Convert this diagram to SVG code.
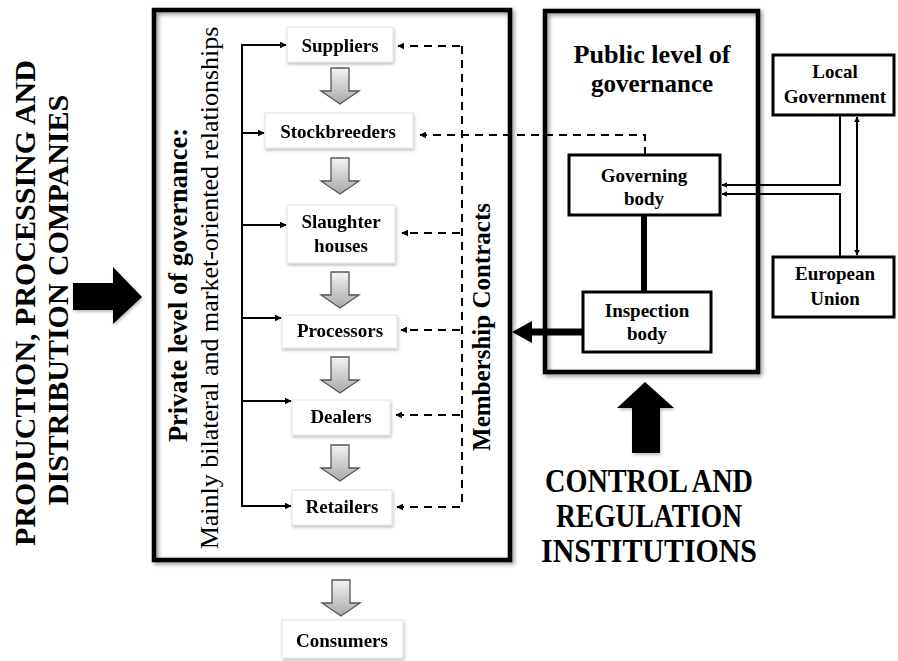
<svg xmlns="http://www.w3.org/2000/svg" xmlns:xlink="http://www.w3.org/1999/xlink" width="898" height="661" viewBox="0 0 898 661">
<style>
text{font-family:"Liberation Serif","Times New Roman",serif;fill:#000;}
.b{font-weight:bold;}
.node{font-weight:bold;font-size:19px;text-anchor:middle;}
.gbox{fill:#fff;stroke:#e2e2e2;stroke-width:1;}
.bbox{fill:#fff;stroke:#000;stroke-width:3;}
.frame{fill:none;stroke:#000;stroke-width:4.5;}
.sol{fill:none;stroke:#000;stroke-width:2;}
.dash{fill:none;stroke:#000;stroke-width:2;stroke-dasharray:8,6;}
</style>
<defs>
<linearGradient id="gg" x1="0" y1="0" x2="0" y2="1">
<stop offset="0" stop-color="#f4f4f4"/>
<stop offset="1" stop-color="#a8a8a8"/>
</linearGradient>
<filter id="sh" x="-10%" y="-10%" width="120%" height="120%">
<feGaussianBlur in="SourceAlpha" stdDeviation="2"/>
<feOffset dx="2" dy="2" result="o"/>
<feComponentTransfer><feFuncA type="linear" slope="0.45"/></feComponentTransfer>
<feMerge><feMergeNode/><feMergeNode in="SourceGraphic"/></feMerge>
</filter>
<filter id="sh2" x="-10%" y="-10%" width="130%" height="130%">
<feGaussianBlur in="SourceAlpha" stdDeviation="1.5"/>
<feOffset dx="1" dy="2" result="o"/>
<feComponentTransfer><feFuncA type="linear" slope="0.25"/></feComponentTransfer>
<feMerge><feMergeNode/><feMergeNode in="SourceGraphic"/></feMerge>
</filter>
<path id="garrow" d="M-9,0 H9 V23 H19 L0,36 L-19,23 H-9 Z" fill="url(#gg)" stroke="#555" stroke-width="1.3"/>
<marker id="ah" viewBox="0 0 10 10" refX="9" refY="5" markerWidth="7" markerHeight="7" markerUnits="userSpaceOnUse" orient="auto">
<path d="M0,0 L10,5 L0,10 Z" fill="#000"/>
</marker>
<marker id="ahs" viewBox="0 0 10 10" refX="9" refY="5" markerWidth="6" markerHeight="6" markerUnits="userSpaceOnUse" orient="auto-start-reverse">
<path d="M0,0 L10,5 L0,10 Z" fill="#000"/>
</marker>
</defs>
<rect width="898" height="661" fill="#fff"/>

<!-- frames -->
<g id="private-frame" filter="url(#sh)">
<rect class="frame" x="154" y="10" width="356" height="550"/>
</g>
<g id="public-frame" filter="url(#sh)">
<rect class="frame" x="545" y="11" width="213" height="361"/>
</g>

<!-- side labels -->
<g id="left-label">
<text class="b" font-size="30" text-anchor="middle" transform="translate(35,303) rotate(-90)">PRODUCTION, PROCESSING AND</text>
<text class="b" font-size="30" text-anchor="middle" transform="translate(68,300) rotate(-90)">DISTRIBUTION COMPANIES</text>
<path d="M73,283 H113 V267 L142,297 L113,324 V310 H73 Z" fill="#000" filter="url(#sh2)"/>
</g>
<g id="private-label">
<text class="b" font-size="26.5" text-anchor="middle" transform="translate(187,285) rotate(-90)">Private level of governance:</text>
<text font-size="26" text-anchor="middle" transform="translate(218,288) rotate(-90)">Mainly bilateral and market-oriented relationships</text>
</g>
<g id="membership-label">
<text class="b" font-size="25" text-anchor="middle" transform="translate(490,327) rotate(-90)">Membership Contracts</text>
</g>
<g id="public-label">
<text class="b" font-size="25" text-anchor="middle" x="652" y="63" textLength="157" lengthAdjust="spacingAndGlyphs">Public level of</text>
<text class="b" font-size="25" text-anchor="middle" x="652" y="92">governance</text>
</g>
<g id="control-label">
<path d="M632,453 V408 H617 L645,382 L674,408 H660 V453 Z" fill="#000" filter="url(#sh2)"/>
<text class="b" font-size="33" text-anchor="middle" x="649" y="492" textLength="208" lengthAdjust="spacingAndGlyphs">CONTROL AND</text>
<text class="b" font-size="33" text-anchor="middle" x="649" y="527" textLength="186" lengthAdjust="spacingAndGlyphs">REGULATION</text>
<text class="b" font-size="33" text-anchor="middle" x="649" y="562" textLength="216" lengthAdjust="spacingAndGlyphs">INSTITUTIONS</text>
</g>

<!-- nodes -->
<g id="suppliers" filter="url(#sh2)"><rect class="gbox" x="287" y="27" width="106" height="35"/><text class="node" x="340" y="52">Suppliers</text></g>
<g id="stockbreeders" filter="url(#sh2)"><rect class="gbox" x="265" y="113" width="148" height="35"/><text class="node" x="338" y="138">Stockbreeders</text></g>
<g id="slaughterhouses" filter="url(#sh2)"><rect class="gbox" x="287" y="205" width="108" height="58"/><text class="node" x="341" y="228">Slaughter</text><text class="node" x="341" y="252">houses</text></g>
<g id="processors" filter="url(#sh2)"><rect class="gbox" x="282" y="315" width="115" height="33"/><text class="node" x="340" y="337">Processors</text></g>
<g id="dealers" filter="url(#sh2)"><rect class="gbox" x="292" y="400" width="98" height="35"/><text class="node" x="341" y="423">Dealers</text></g>
<g id="retailers" filter="url(#sh2)"><rect class="gbox" x="292" y="490" width="100" height="35"/><text class="node" x="342" y="513">Retailers</text></g>
<g id="consumers" filter="url(#sh2)"><rect class="gbox" x="282" y="620" width="121" height="38"/><text class="node" x="342" y="647">Consumers</text></g>

<g id="governing-body"><rect class="bbox" x="569" y="155" width="151" height="60"/><text class="node" x="644" y="182">Governing</text><text class="node" x="644" y="205">body</text></g>
<g id="inspection-body"><rect class="bbox" x="583" y="292" width="128" height="60"/><text class="node" x="647" y="317">Inspection</text><text class="node" x="647" y="340">body</text></g>
<g id="local-government"><rect class="bbox" x="773" y="55" width="121" height="60"/><text class="node" x="835" y="78">Local</text><text class="node" x="835" y="103">Government</text></g>
<g id="european-union"><rect class="bbox" x="773" y="257" width="121" height="60"/><text class="node" x="835" y="280">European</text><text class="node" x="835" y="305">Union</text></g>

<!-- connectors -->
<g id="connectors">
<use xlink:href="#garrow" x="340" y="68"/>
<use xlink:href="#garrow" x="340" y="158"/>
<use xlink:href="#garrow" x="340" y="272"/>
<use xlink:href="#garrow" x="340" y="357"/>
<use xlink:href="#garrow" x="340" y="445"/>
<use xlink:href="#garrow" x="341" y="580"/>

<path class="sol" d="M285,45 H242 V506 H290"/>
<line class="sol" x1="242" y1="45" x2="286" y2="45" marker-end="url(#ah)"/>
<line class="sol" x1="242" y1="133" x2="264" y2="133" marker-end="url(#ah)"/>
<line class="sol" x1="242" y1="225" x2="286" y2="225" marker-end="url(#ah)"/>
<line class="sol" x1="242" y1="318" x2="281" y2="318" marker-end="url(#ah)"/>
<line class="sol" x1="242" y1="401" x2="291" y2="401" marker-end="url(#ah)"/>
<line class="sol" x1="242" y1="506" x2="291" y2="506" marker-end="url(#ah)"/>

<path class="dash" d="M462,46 V508"/>
<line class="dash" x1="460" y1="46" x2="398" y2="46" marker-end="url(#ah)"/>
<path class="dash" d="M645,155 V135 H420" marker-end="url(#ah)"/>
<line class="dash" x1="460" y1="233" x2="402" y2="233" marker-end="url(#ah)"/>
<line class="dash" x1="460" y1="330" x2="401" y2="330" marker-end="url(#ah)"/>
<line class="dash" x1="460" y1="415" x2="396" y2="415" marker-end="url(#ah)"/>
<line class="dash" x1="460" y1="507" x2="397" y2="507" marker-end="url(#ah)"/>

<line x1="644" y1="215" x2="644" y2="292" stroke="#000" stroke-width="6"/>
<path d="M583,332 H530" stroke="#000" stroke-width="7" fill="none"/>
<path d="M532,321 L512,332 L532,343 Z" fill="#000"/>

<path class="sol" d="M840,115 V185 H722" marker-end="url(#ahs)"/>
<path class="sol" d="M840,257 V194 H722" marker-end="url(#ahs)"/>
<line class="sol" x1="857" y1="117" x2="857" y2="255" marker-start="url(#ahs)" marker-end="url(#ahs)"/>
</g>
</svg>
